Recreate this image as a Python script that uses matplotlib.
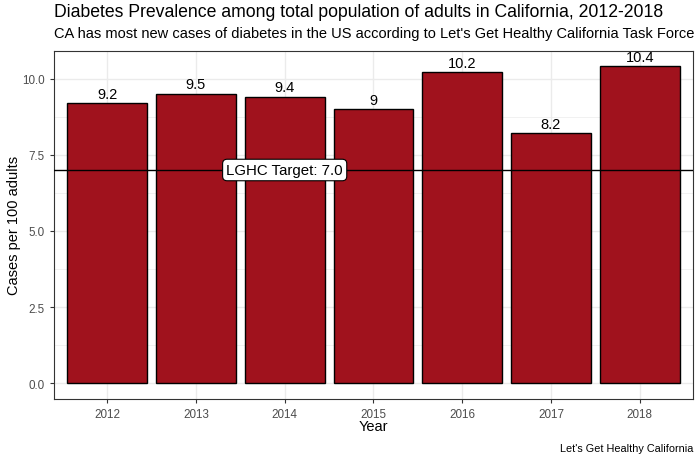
import matplotlib.pyplot as plt
import numpy as np

years = ["2012", "2013", "2014", "2015", "2016", "2017", "2018"]
rates = [9.2, 9.5, 9.4, 9.0, 10.2, 8.2, 10.4]
bar_labels = ["9.2", "9.5", "9.4", "9", "10.2", "8.2", "10.4"]
target = 7.0

plt.rcParams["font.family"] = ["Liberation Sans", "DejaVu Sans"]

fig = plt.figure(figsize=(7, 4.6), dpi=100)
ax = fig.add_axes([0.077, 0.130, 0.913, 0.758])

x = np.arange(1, len(years) + 1)
ax.bar(x, rates, width=0.9, color="#A0121D", edgecolor="black", linewidth=1.0, zorder=3)
for xi, r, lab in zip(x, rates, bar_labels):
    ax.text(xi, r + 0.08, lab, ha="center", va="bottom", fontsize=10.5, zorder=5)

ax.axhline(target, color="black", linewidth=1.0, zorder=4)
target_lbl = ax.text(3, target, "LGHC Target: 7.0", ha="center", va="center", fontsize=10, zorder=6,
                     bbox=dict(boxstyle="round,pad=0.25,rounding_size=0.3", fc="white", ec="black", lw=0.8))

ax.set_xlim(0.4, 7.6)
ax.set_ylim(-0.52, 10.92)
ax.set_xticks(x)
ax.set_xticklabels(years)
ax.set_yticks([0, 2.5, 5, 7.5, 10])
ax.set_yticklabels(["0.0", "2.5", "5.0", "7.5", "10.0"])
ax.set_yticks([1.25, 3.75, 6.25, 8.75], minor=True)
ax.tick_params(axis="both", which="major", labelsize=8.4, colors="#333333", labelcolor="#4D4D4D",
               length=3, width=0.8)
ax.tick_params(axis="both", which="minor", length=0)
ax.grid(which="major", color="#EBEBEB", linewidth=1.0, zorder=0)
ax.grid(which="minor", axis="y", color="#EBEBEB", linewidth=0.5, zorder=0)
ax.set_axisbelow(True)
for s in ax.spines.values():
    s.set_color("#333333")
    s.set_linewidth(0.8)

ax.set_xlabel("Year", fontsize=10.5)
ax.set_ylabel("Cases per 100 adults", fontsize=10.5)
ax.xaxis.set_label_coords(0.5, -0.077)
ax.yaxis.set_label_coords(-0.062, 0.5)
ax.xaxis.label.set_va("center")
ax.yaxis.label.set_va("center")

title = fig.text(0.077, 0.972, "Diabetes Prevalence among total population of adults in California, 2012-2018",
                 fontsize=12.6, ha="left", va="center")
subtitle = fig.text(0.077, 0.927, "CA has most new cases of diabetes in the US according to Let's Get Healthy California Task Force",
                    fontsize=10, ha="left", va="center")
fig.text(0.99, 0.024, "Let's Get Healthy California", fontsize=7.8, ha="right", va="center")

# scale texts so they span the same width (px) as in the original
renderer = fig.canvas.get_renderer()
for t, width_px in [(title, 662 - 54), (subtitle, 693 - 54), (target_lbl, 117)]:
    w = t.get_window_extent(renderer).width
    t.set_fontsize(t.get_fontsize() * width_px / w)

fig.savefig("out.png", dpi=100)
